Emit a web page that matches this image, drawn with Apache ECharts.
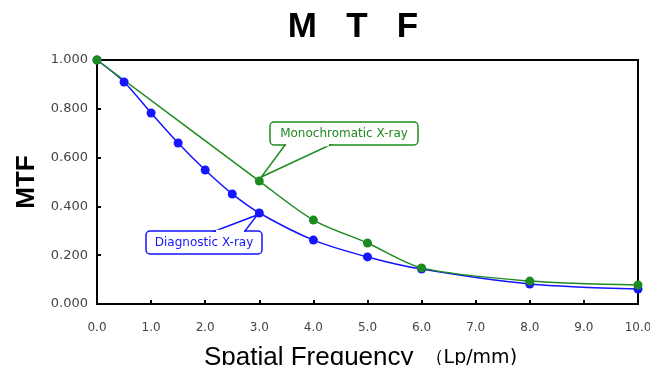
<!DOCTYPE html>
<html>
<head>
<meta charset="utf-8">
<script src="https://cdn.jsdelivr.net/npm/echarts@6/dist/echarts.min.js"></script>
<style>
  html, body { margin: 0; padding: 0; background: #fff; }
  #chart { width: 650px; height: 365px; }
</style>
</head>
<body>
<div id="chart"></div>
<script>
// values
const diagFreq = [0, 0.5, 1.0, 1.5, 2.0, 2.5, 3.0, 4.0, 5.0, 6.0, 8.0, 10.0]
const diagMtf = [1.0, 0.91, 0.783, 0.66, 0.549, 0.451, 0.373, 0.262, 0.193, 0.143, 0.082, 0.061]
const monoFreq = [0, 3.0, 4.0, 5.0, 6.0, 8.0, 10.0]
const monoMtf = [1.0, 0.504, 0.344, 0.25, 0.148, 0.094, 0.078]

const BLUE = '#1515ff'
const GREEN = '#1f8a1f'
const FONT = '"Liberation Sans", "DejaVu Sans", sans-serif'
const WIDE = '"DejaVu Sans", sans-serif'

const chart = echarts.init(document.getElementById('chart'))

const option = {
  animation: false,
  title: {
    text: 'M   T   F',
    left: 348,
    top: 5,
    textAlign: 'center',
    textStyle: { fontSize: 35, fontWeight: 'bold', color: '#000', fontFamily: FONT },
  },
  grid: {
    left: 97, right: 12, top: 60, bottom: 61,
    outerBoundsMode: 'none',
    show: true, borderColor: '#000', borderWidth: 2,
  },
  xAxis: {
    type: 'value',
    min: 0,
    max: 10,
    interval: 1,
    name: '{a|Spatial Frequency}{b| （Lp/mm)}',
    nameLocation: 'middle',
    nameGap: 41,
    nameTextStyle: {
      color: '#000',
      padding: [0, 14, 0, 0],
      rich: {
        a: { fontSize: 26, color: '#000', fontFamily: FONT },
        b: { fontSize: 19, color: '#000', fontFamily: WIDE, padding: [0, 0, 0, 5] },
      },
    },
    axisLine: { lineStyle: { color: '#000', width: 2 } },
    axisTick: { inside: true, length: 4, lineStyle: { color: '#000', width: 2 } },
    axisLabel: { margin: 18, fontSize: 12, color: '#444', fontFamily: WIDE, formatter: v => v.toFixed(1) },
    splitLine: { show: false },
  },
  yAxis: {
    type: 'value',
    min: 0,
    max: 1,
    interval: 0.2,
    name: 'MTF',
    nameLocation: 'middle',
    nameGap: 56,
    nameTextStyle: { fontSize: 26, fontWeight: 'bold', color: '#000', fontFamily: FONT },
    axisLine: { lineStyle: { color: '#000', width: 2 } },
    axisTick: { inside: true, length: 4, lineStyle: { color: '#000', width: 2 } },
    axisLabel: { margin: 9, fontSize: 13, color: '#444', fontFamily: WIDE, formatter: v => v.toFixed(3) },
    splitLine: { show: false },
  },
  series: [
    {
      name: 'Diagnostic X-ray',
      type: 'line',
      smooth: 0.3,
      data: diagFreq.map((f, i) => [f, diagMtf[i]]),
      symbol: 'circle',
      symbolSize: 9,
      itemStyle: { color: BLUE },
      lineStyle: { color: BLUE, width: 1.5 },
    },
    {
      name: 'Monochromatic X-ray',
      type: 'line',
      smooth: 0.3,
      data: monoFreq.map((f, i) => [f, monoMtf[i]]),
      symbol: 'circle',
      symbolSize: 9,
      itemStyle: { color: GREEN },
      lineStyle: { color: GREEN, width: 1.5 },
    },
  ],
}

chart.setOption(option)

// callout boxes pointing at the 3.0 points
function callout(text, color, point, box, base) {
  const [px, py] = chart.convertToPixel({ gridIndex: 0 }, point)
  const [x, y, w, h] = box
  const edgeY = base.side === 'top' ? y : y + h
  return [
    {
      type: 'rect',
      shape: { x: x, y: y, width: w, height: h, r: 4 },
      style: { fill: '#fff', stroke: color, lineWidth: 1.5 },
      z: 10,
    },
    {
      type: 'polygon',
      shape: { points: [[base.x1, edgeY], [px + base.dx, py + base.dy], [base.x2, edgeY]] },
      style: { fill: '#fff', stroke: color, lineWidth: 1.5 },
      z: 11,
    },
    {
      type: 'line',
      shape: { x1: base.x1 + 1, y1: edgeY, x2: base.x2 - 1, y2: edgeY },
      style: { stroke: '#fff', lineWidth: 2.5 },
      z: 12,
    },
    {
      type: 'text',
      x: x + w / 2,
      y: y + h / 2,
      style: { text: text, fill: color, fontSize: 12, fontFamily: WIDE, align: 'center', verticalAlign: 'middle' },
      z: 13,
    },
  ]
}

chart.setOption({
  graphic: [
    ...callout('Monochromatic X-ray', GREEN, [3.0, monoMtf[1]], [270, 122, 148, 23],
      { side: 'bottom', x1: 285, x2: 330, dx: 2, dy: -4 }),
    ...callout('Diagnostic X-ray', BLUE, [3.0, diagMtf[6]], [146, 231, 116, 23],
      { side: 'top', x1: 215, x2: 245, dx: -2, dy: 2 }),
  ],
})
</script>
</body>
</html>
